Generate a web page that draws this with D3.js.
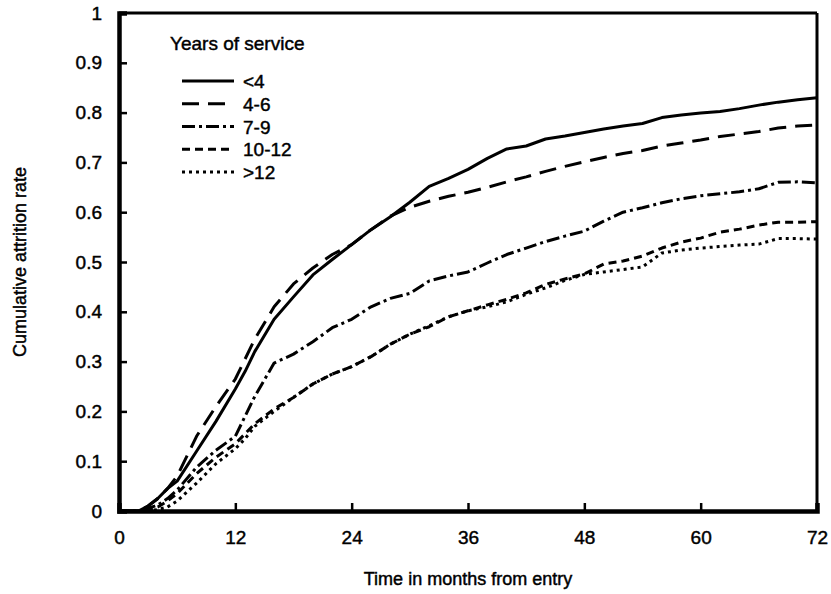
<!DOCTYPE html>
<html>
<head>
<meta charset="utf-8">
<script src="https://cdn.jsdelivr.net/npm/d3@7"></script>
<style>
  html, body { margin: 0; padding: 0; background: #fff; }
  svg text { font-family: "Liberation Sans", Arial, Helvetica, sans-serif; fill: #000; stroke: #000; stroke-width: 0.45px; }
</style>
</head>
<body>
<svg id="chart" width="831" height="594"></svg>
<script>
// Months from entry at which each curve is sampled
const months = [0,2,3,4,5,6,8,10,12,13,14,16,18,20,22,24,26,28,30,32,34,36,38,40,42,44,46,48,50,52,54,56,58,60,62,64,66,68,70,72];

// Cumulative attrition rate by years of service
const lt4 = [0,0,0.01,0.025,0.045,0.06,0.12,0.18,0.245,0.28,0.32,0.385,0.43,0.474,0.505,0.535,0.565,0.591,0.62,0.652,0.668,0.686,0.708,0.727,0.733,0.747,0.753,0.76,0.767,0.773,0.778,0.79,0.795,0.799,0.802,0.808,0.815,0.821,0.826,0.83];
const y4to6 = [0,0,0.01,0.025,0.045,0.07,0.15,0.21,0.265,0.305,0.345,0.41,0.456,0.488,0.515,0.535,0.565,0.592,0.61,0.622,0.632,0.64,0.65,0.661,0.671,0.682,0.692,0.701,0.71,0.718,0.724,0.733,0.739,0.745,0.752,0.757,0.762,0.769,0.773,0.775];
const y7to9 = [0,0,0.005,0.012,0.025,0.042,0.088,0.122,0.15,0.19,0.23,0.297,0.315,0.34,0.368,0.385,0.41,0.427,0.437,0.462,0.472,0.48,0.498,0.515,0.528,0.541,0.552,0.562,0.582,0.6,0.609,0.619,0.627,0.633,0.637,0.641,0.647,0.66,0.661,0.659];
const y10to12 = [0,0,0.003,0.008,0.02,0.035,0.075,0.108,0.135,0.155,0.175,0.205,0.228,0.255,0.275,0.29,0.31,0.335,0.355,0.37,0.39,0.402,0.414,0.425,0.438,0.455,0.466,0.476,0.496,0.502,0.512,0.528,0.54,0.548,0.56,0.566,0.574,0.58,0.58,0.581];
const gt12 = [0,0,0,0.003,0.008,0.02,0.056,0.095,0.125,0.145,0.17,0.2,0.228,0.255,0.275,0.29,0.31,0.335,0.355,0.372,0.39,0.402,0.41,0.42,0.435,0.448,0.463,0.475,0.48,0.485,0.49,0.518,0.524,0.528,0.531,0.534,0.536,0.547,0.547,0.546];

const seriesNames = ["<4", "4-6", "7-9", "10-12", ">12"];
const seriesValues = [lt4, y4to6, y7to9, y10to12, gt12];
const dashStyles = [null, "17,9", "13,4,3,4", "8,5", "3,4"];

const xTicks = [0,12,24,36,48,60,72];
const yTicks = [0,0.1,0.2,0.3,0.4,0.5,0.6,0.7,0.8,0.9,1];

const svg = d3.select("#chart");
const plotLeft = 119, plotRight = 817, plotTop = 13, plotBottom = 511;

const x = d3.scaleLinear().domain([0, 72]).range([plotLeft, plotRight]);
const y = d3.scaleLinear().domain([0, 1]).range([plotBottom, plotTop]);

// Frame: heavy left/bottom axes, lighter top/right edges
svg.append("line").attr("x1", plotLeft).attr("x2", plotRight).attr("y1", plotTop).attr("y2", plotTop)
  .attr("stroke", "#000").attr("stroke-width", 3);
svg.append("line").attr("x1", plotRight).attr("x2", plotRight).attr("y1", plotTop).attr("y2", plotBottom)
  .attr("stroke", "#000").attr("stroke-width", 3);

// Y axis with inward ticks
const yAxis = d3.axisLeft(y).tickValues(yTicks).tickSize(-8).tickPadding(26)
  .tickFormat(d => d === 0 ? "0" : d === 1 ? "1" : d3.format(".1f")(d));
const gy = svg.append("g").attr("transform", `translate(${plotLeft},0)`).call(yAxis);
gy.select(".domain").attr("stroke-width", 4.5);
gy.selectAll(".tick line").attr("stroke-width", 2.5);
gy.selectAll(".tick text").attr("font-size", 19).attr("text-anchor", "end").attr("x", -17);

// X axis with inward ticks
const xAxis = d3.axisBottom(x).tickValues(xTicks).tickSize(-8).tickPadding(20);
const gx = svg.append("g").attr("transform", `translate(0,${plotBottom})`).call(xAxis);
gx.select(".domain").attr("stroke-width", 4.5);
gx.selectAll(".tick line").attr("stroke-width", 2.5);
gx.selectAll(".tick text").attr("font-size", 19);

// Axis titles
svg.append("text").attr("x", (plotLeft + plotRight) / 2).attr("y", 585)
  .attr("text-anchor", "middle").attr("font-size", 18).text("Time in months from entry");
svg.append("text").attr("transform", `translate(26,${(plotTop + plotBottom) / 2}) rotate(-90)`)
  .attr("text-anchor", "middle").attr("font-size", 18).text("Cumulative attrition rate");

// Curves
const line = d3.line().x((d, i) => x(months[i])).y(d => y(d));
seriesValues.forEach((vals, k) => {
  svg.append("path").datum(vals)
    .attr("d", line)
    .attr("fill", "none")
    .attr("stroke", "#000")
    .attr("stroke-width", 3)
    .attr("stroke-linejoin", "round")
    .attr("stroke-dasharray", dashStyles[k]);
});

// Legend
const lg = svg.append("g");
lg.append("text").attr("x", 170).attr("y", 50).attr("font-size", 19).text("Years of service");
const rowY = d3.scaleLinear().domain([0, 4]).range([81, 172]);
seriesNames.forEach((name, k) => {
  lg.append("line").attr("x1", 182).attr("x2", 234)
    .attr("y1", rowY(k)).attr("y2", rowY(k))
    .attr("stroke", "#000").attr("stroke-width", 3)
    .attr("stroke-dasharray", dashStyles[k]);
  lg.append("text").attr("x", 243).attr("y", rowY(k) + 7).attr("font-size", 19).text(name);
});
</script>
</body>
</html>
